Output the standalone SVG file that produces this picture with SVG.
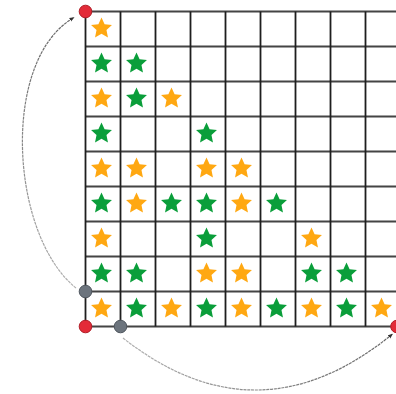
<svg xmlns="http://www.w3.org/2000/svg" xmlns:xlink="http://www.w3.org/1999/xlink" width="396" height="394" viewBox="0 0 396 394">
<style>
.hl{stroke:#a0a0a0;stroke-width:3}
.hc{stroke:#444444;stroke-width:1}
.vl{stroke:#1e1e1e;stroke-width:1.8}
.o{fill:#FFA812}
.g{fill:#0A9E3A}
.red{fill:#E32B38;stroke:#B01E28;stroke-width:1}
.gray{fill:#6C747D;stroke:#4F565E;stroke-width:1}
.arc{fill:none;stroke-width:1.2;stroke-dasharray:3 0.8}
</style>
<defs>
<path id="star" d="M0,-11 L3.09,-4.25 L10.46,-3.4 L4.98,1.62 L6.47,8.9 L0,5.25 L-6.47,8.9 L-4.98,1.62 L-10.46,-3.4 L-3.09,-4.25 Z"/>
<marker id="ah" viewBox="0 0 10 10" refX="9" refY="5" markerWidth="5" markerHeight="5" orient="auto" markerUnits="userSpaceOnUse">
<path d="M0,1 L10,5 L0,9 Z" fill="#333"/>
</marker>
<linearGradient id="gl" x1="0" y1="1" x2="0" y2="0">
<stop offset="0" stop-color="#b0b0b0"/>
<stop offset="1" stop-color="#666666"/>
</linearGradient>
<linearGradient id="gb" x1="0" y1="0" x2="1" y2="0">
<stop offset="0" stop-color="#b0b0b0"/>
<stop offset="1" stop-color="#666666"/>
</linearGradient>
</defs>
<rect width="396" height="394" fill="#fff"/>
<g id="grid">
<g class="hl">
<line x1="85.5" y1="11.5" x2="396" y2="11.5"/>
<line x1="85.5" y1="46.5" x2="396" y2="46.5"/>
<line x1="85.5" y1="81.5" x2="396" y2="81.5"/>
<line x1="85.5" y1="116.5" x2="396" y2="116.5"/>
<line x1="85.5" y1="151.5" x2="396" y2="151.5"/>
<line x1="85.5" y1="186.5" x2="396" y2="186.5"/>
<line x1="85.5" y1="221.5" x2="396" y2="221.5"/>
<line x1="85.5" y1="256.5" x2="396" y2="256.5"/>
<line x1="85.5" y1="291.5" x2="396" y2="291.5"/>
<line x1="85.5" y1="326.5" x2="396" y2="326.5"/>
</g>
<g class="hc">
<line x1="85.5" y1="11.5" x2="396" y2="11.5"/>
<line x1="85.5" y1="46.5" x2="396" y2="46.5"/>
<line x1="85.5" y1="81.5" x2="396" y2="81.5"/>
<line x1="85.5" y1="116.5" x2="396" y2="116.5"/>
<line x1="85.5" y1="151.5" x2="396" y2="151.5"/>
<line x1="85.5" y1="186.5" x2="396" y2="186.5"/>
<line x1="85.5" y1="221.5" x2="396" y2="221.5"/>
<line x1="85.5" y1="256.5" x2="396" y2="256.5"/>
<line x1="85.5" y1="291.5" x2="396" y2="291.5"/>
<line x1="85.5" y1="326.5" x2="396" y2="326.5"/>
</g>
<g class="vl">
<line x1="85.5" y1="11.5" x2="85.5" y2="326.5"/>
<line x1="120.5" y1="11.5" x2="120.5" y2="326.5"/>
<line x1="155.5" y1="11.5" x2="155.5" y2="326.5"/>
<line x1="190.5" y1="11.5" x2="190.5" y2="326.5"/>
<line x1="225.5" y1="11.5" x2="225.5" y2="326.5"/>
<line x1="260.5" y1="11.5" x2="260.5" y2="326.5"/>
<line x1="295.5" y1="11.5" x2="295.5" y2="326.5"/>
<line x1="330.5" y1="11.5" x2="330.5" y2="326.5"/>
<line x1="365.5" y1="11.5" x2="365.5" y2="326.5"/>
</g>
</g>
<g id="stars">
<use xlink:href="#star" class="o" x="101.5" y="28.5"/>
<use xlink:href="#star" class="g" x="101.5" y="63.5"/>
<use xlink:href="#star" class="g" x="136.5" y="63.5"/>
<use xlink:href="#star" class="o" x="101.5" y="98.5"/>
<use xlink:href="#star" class="g" x="136.5" y="98.5"/>
<use xlink:href="#star" class="o" x="171.5" y="98.5"/>
<use xlink:href="#star" class="g" x="101.5" y="133.5"/>
<use xlink:href="#star" class="g" x="206.5" y="133.5"/>
<use xlink:href="#star" class="o" x="101.5" y="168.5"/>
<use xlink:href="#star" class="o" x="136.5" y="168.5"/>
<use xlink:href="#star" class="o" x="206.5" y="168.5"/>
<use xlink:href="#star" class="o" x="241.5" y="168.5"/>
<use xlink:href="#star" class="g" x="101.5" y="203.5"/>
<use xlink:href="#star" class="o" x="136.5" y="203.5"/>
<use xlink:href="#star" class="g" x="171.5" y="203.5"/>
<use xlink:href="#star" class="g" x="206.5" y="203.5"/>
<use xlink:href="#star" class="o" x="241.5" y="203.5"/>
<use xlink:href="#star" class="g" x="276.5" y="203.5"/>
<use xlink:href="#star" class="o" x="101.5" y="238.5"/>
<use xlink:href="#star" class="g" x="206.5" y="238.5"/>
<use xlink:href="#star" class="o" x="311.5" y="238.5"/>
<use xlink:href="#star" class="g" x="101.5" y="273.5"/>
<use xlink:href="#star" class="g" x="136.5" y="273.5"/>
<use xlink:href="#star" class="o" x="206.5" y="273.5"/>
<use xlink:href="#star" class="o" x="241.5" y="273.5"/>
<use xlink:href="#star" class="g" x="311.5" y="273.5"/>
<use xlink:href="#star" class="g" x="346.5" y="273.5"/>
<use xlink:href="#star" class="o" x="101.5" y="308.5"/>
<use xlink:href="#star" class="g" x="136.5" y="308.5"/>
<use xlink:href="#star" class="o" x="171.5" y="308.5"/>
<use xlink:href="#star" class="g" x="206.5" y="308.5"/>
<use xlink:href="#star" class="o" x="241.5" y="308.5"/>
<use xlink:href="#star" class="g" x="276.5" y="308.5"/>
<use xlink:href="#star" class="o" x="311.5" y="308.5"/>
<use xlink:href="#star" class="g" x="346.5" y="308.5"/>
<use xlink:href="#star" class="o" x="381.5" y="308.5"/>
</g>
<g id="connectors">
<path class="arc" stroke="url(#gl)" d="M76,288 C10,235 0,60 74,17.5" marker-end="url(#ah)"/>
<path class="arc" stroke="url(#gb)" d="M123,338 Q258,444 392.5,334" marker-end="url(#ah)"/>
</g>
<g id="n-top"><circle class="red" cx="85.5" cy="11.5" r="6.3"/></g>
<g id="n-origin"><circle class="red" cx="85.5" cy="326.5" r="6.3"/></g>
<g id="n-right"><circle class="red" cx="397" cy="326.5" r="6.3"/></g>
<g id="n-left"><circle class="gray" cx="85.5" cy="291.5" r="6.3"/></g>
<g id="n-bottom"><circle class="gray" cx="120.5" cy="326.5" r="6.3"/></g>
</svg>
